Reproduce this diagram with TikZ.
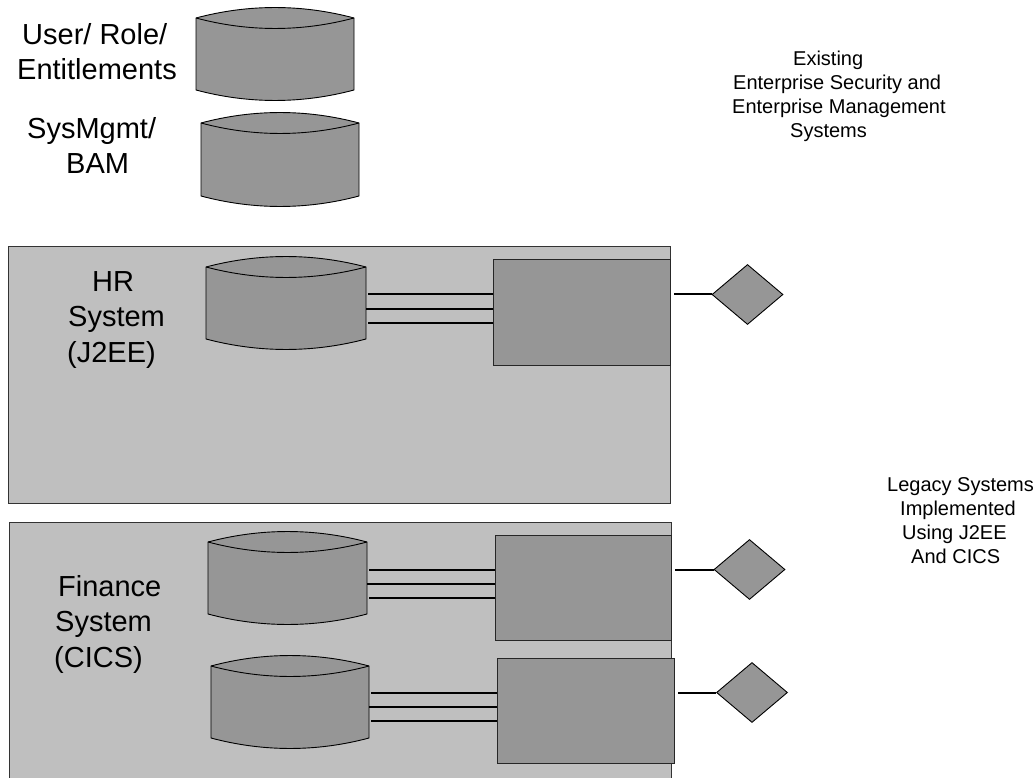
\documentclass[tikz,border=0pt]{standalone}
\usepackage{fontspec}
\setmainfont{Liberation Sans}
\usetikzlibrary{shapes.geometric,calc}
\definecolor{panelgray}{gray}{0.75}
\definecolor{shapegray}{gray}{0.59}
\tikzset{
  panel/.style={draw=black!80,fill=panelgray,line width=.8pt},
  boxnode/.style={draw=black!85,fill=shapegray,line width=1pt,inner sep=0pt,anchor=north west},
  drum/.style={draw=black,fill=shapegray,line width=.9pt},
  gem/.style={diamond,aspect=1.18,draw=black,fill=shapegray,line width=.9pt,inner sep=0pt,minimum width=71pt,minimum height=60pt},
  wire/.style={draw=black,line width=2pt},
  biglabel/.style={font=\fontsize{29}{35.5}\selectfont,align=left,inner sep=0pt,anchor=base west},
  smalllabel/.style={font=\fontsize{20}{24}\selectfont,align=left,inner sep=0pt,anchor=base west},
}
% #1 name, #2 left, #3 right, #4 corner y, #5 side bottom y, #6 bulge
\newcommand{\drumshape}[6]{%
  \path[drum] (#2,#4)
    .. controls ({#2+(#3-#2)*0.33},{#4-#6*1.33}) and ({#2+(#3-#2)*0.67},{#4-#6*1.33}) .. (#3,#4)
    -- (#3,#5)
    .. controls ({#2+(#3-#2)*0.67},{#5+#6*1.33}) and ({#2+(#3-#2)*0.33},{#5+#6*1.33}) .. (#2,#5)
    -- cycle;
  \path[drum] (#2,#4)
    .. controls ({#2+(#3-#2)*0.33},{#4+#6*1.33}) and ({#2+(#3-#2)*0.67},{#4+#6*1.33}) .. (#3,#4);
  \node[inner sep=0pt,minimum width={(#3-#2)*1pt},minimum height={(#5-#4)*1pt}] (#1) at ({(#2+#3)/2},{(#4+#5)/2}) {};
}
% three wires between a drum and a box, first at the height of the gem; stub to the gem
% #1 drum, #2 box, #3 gem
\newcommand{\wires}[3]{%
  \coordinate (#1w) at (#2.west |- #3.west);
  \draw[wire,shorten >=2pt] (#1w) -- (#1w -| #1.east);
  \draw[wire] ($(#1w)+(0,14)$) -- ($(#1w -| #1.east)+(0,14)$);
  \draw[wire,shorten >=2pt] ($(#1w)+(0,28)$) -- ($(#1w -| #1.east)+(0,28)$);
  \draw[wire,shorten >=2.5pt] (#3.west) -- (#3.west -| #2.east);
}
\begin{document}
\begin{tikzpicture}[x=1pt,y=-1pt]
\useasboundingbox (0,0) rectangle (1034,778);
\path[panel] (8,246) rectangle (670,503);
\path[panel] (9,522) rectangle (671,782);
\drumshape{a}{196}{354}{18}{90}{10.5}
\drumshape{b}{201}{359}{123}{196}{10.5}
\drumshape{c}{206}{366}{267}{339}{10.5}
\drumshape{d}{208}{367}{542}{614}{10.5}
\drumshape{e}{211}{369}{666}{738}{10.5}
\node[boxnode,minimum width=177pt,minimum height=106pt] (cbox) at (493,259) {};
\node[boxnode,minimum width=176pt,minimum height=105pt] (dbox) at (495,535) {};
\node[boxnode,minimum width=177pt,minimum height=105pt] (ebox) at (497,658) {};
\node[gem] (cgem) at (747.5,294.5) {};
\node[gem] (dgem) at (749.5,569.5) {};
\node[gem] (egem) at (752,692.5) {};
\wires{c}{cbox}{cgem}
\wires{d}{dbox}{dgem}
\wires{e}{ebox}{egem}
\node[biglabel] (lab1) at (17,80) {\hspace*{5pt}User/ Role/\\Entitlements};
\node[biglabel] (lab2) at (27,174) {SysMgmt/\\\hspace*{39pt}BAM};
\node[biglabel] (lab3) at (67,362) {\hspace*{25pt}HR\\\hspace*{1pt}System\\(J2EE)};
\node[biglabel] (lab4) at (54,667) {\hspace*{4pt}Finance\\\hspace*{1pt}System\\(CICS)};
\node[smalllabel] (lab5) at (732,138) {\hspace*{61pt}Existing\\\hspace*{1pt}Enterprise Security and\\Enterprise Management\\\hspace*{58pt}Systems};
\node[smalllabel] (lab6) at (887,563) {Legacy Systems\\\hspace*{13pt}Implemented\\\hspace*{15pt}Using J2EE\\\hspace*{24pt}And CICS};
\end{tikzpicture}
\end{document}
